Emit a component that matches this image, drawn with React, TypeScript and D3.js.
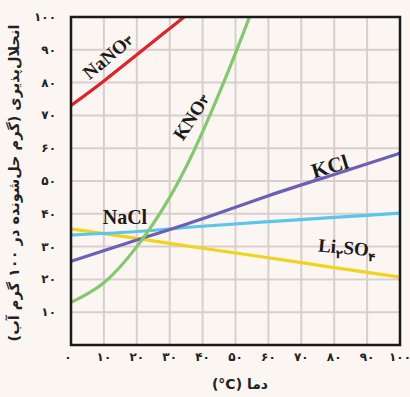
import React from 'react';
import * as d3 from 'd3';

// solubility (g per 100 g water) vs temperature
const temps = [0, 10, 20, 30, 40, 50, 60, 70, 80, 90, 100];
const tickLabels = ['۰', '۱۰', '۲۰', '۳۰', '۴۰', '۵۰', '۶۰', '۷۰', '۸۰', '۹۰', '۱۰۰'];

const nano3T = [0, 10, 20, 30, 40];
const nano3V = [73, 80.5, 88.5, 96.5, 104.5];

const kno3T = [0, 10, 20, 30, 40, 50, 55];
const kno3V = [13, 19, 30, 45, 65, 89, 102];

const kclT = [0, 20, 40, 60, 80, 100];
const kclV = [25.5, 32, 38.5, 45.5, 52, 58.5];

const naclT = [0, 20, 40, 60, 80, 100];
const naclV = [33.5, 34.6, 36.2, 37.6, 38.9, 40.2];

const li2so4T = [0, 20, 40, 60, 80, 100];
const li2so4V = [35.4, 32.5, 29.5, 26.6, 23.6, 20.7];

const W = 410;
const H = 397;
const margin = { top: 17, right: 10, bottom: 52, left: 71 };

const App = () => {
  const x = d3.scaleLinear().domain([0, 100]).range([margin.left, W - margin.right]);
  const y = d3.scaleLinear().domain([0, 100]).range([H - margin.bottom, margin.top]);

  const line = d3
    .line<[number, number]>()
    .x(d => x(d[0]))
    .y(d => y(d[1]))
    .curve(d3.curveNatural);

  const series = [
    { t: li2so4T, v: li2so4V, color: '#f2d31c' },
    { t: naclT, v: naclV, color: '#5cc6ea' },
    { t: kclT, v: kclV, color: '#6a60b4' },
    { t: kno3T, v: kno3V, color: '#82c96c' },
    { t: nano3T, v: nano3V, color: '#e3202a' },
  ];

  const labelFont = '"Liberation Serif", "DejaVu Serif", serif';
  const faFont = '"DejaVu Sans", sans-serif';

  return (
    <svg width={W} height={H} style={{ position: 'absolute', left: 0, top: 0, background: '#fcf6f2' }}>
      <defs>
        <clipPath id="plot">
          <rect x={x(0)} y={y(100)} width={x(100) - x(0)} height={y(0) - y(100)} />
        </clipPath>
      </defs>

      {/* grid */}
      {temps.map(t => (
        <line key={'gx' + t} x1={x(t)} x2={x(t)} y1={y(0)} y2={y(100)} stroke="#d8cfcc" strokeWidth={2} />
      ))}
      {temps.map(t => (
        <line key={'gy' + t} x1={x(0)} x2={x(100)} y1={y(t)} y2={y(t)} stroke="#d8cfcc" strokeWidth={2} />
      ))}

      {/* curves */}
      <g clipPath="url(#plot)">
        {series.map((s, i) => (
          <path
            key={i}
            d={line(s.t.map((t, j) => [t, s.v[j]] as [number, number])) || ''}
            fill="none"
            stroke={s.color}
            strokeWidth={3.2}
          />
        ))}
      </g>

      {/* frame */}
      <rect
        x={x(0)}
        y={y(100)}
        width={x(100) - x(0)}
        height={y(0) - y(100)}
        fill="none"
        stroke="#1a1a1a"
        strokeWidth={2.5}
      />

      {/* y ticks */}
      {temps.slice(1).map((t, i) => (
        <text
          key={'yt' + t}
          x={x(0) - 15}
          y={y(t) + 4}
          textAnchor="end"
          fontFamily={faFont}
          fontWeight="bold"
          fontSize={12}
          fill="#222"
        >
          {tickLabels[i + 1]}
        </text>
      ))}
      {/* x ticks */}
      {temps.map((t, i) => (
        <text
          key={'xt' + t}
          x={x(t) + (i === 0 ? -3 : 0)}
          y={y(0) + 16}
          textAnchor="middle"
          fontFamily={faFont}
          fontWeight="bold"
          fontSize={12}
          fill="#222"
        >
          {tickLabels[i]}
        </text>
      ))}

      {/* axis titles */}
      <text
        x={240}
        y={389}
        textAnchor="middle"
        fontFamily={faFont}
        fontWeight="bold"
        fontSize={14}
        fill="#222"
        direction="rtl"
      >
        {'دما (\u200E°C)'}
      </text>
      <text
        transform={`translate(19,${(y(0) + y(100)) / 2 + 2}) rotate(-90)`}
        textAnchor="middle"
        fontFamily={faFont}
        fontWeight="bold"
        fontSize={14.5}
        fill="#222"
        direction="rtl"
      >
        انحلال‌پذیری (گرم حل‌شونده در ۱۰۰ گرم آب)
      </text>

      {/* curve labels */}
      <text x={x(16.4)} y={y(36.9)} textAnchor="middle" fontFamily={labelFont} fontWeight="bold" fontSize={20} fill="#1a1a1a">
        NaCl
      </text>
      <text
        transform={`translate(${x(79.3)},${y(52.4)}) rotate(-17)`}
        textAnchor="middle"
        fontFamily={labelFont}
        fontWeight="bold"
        fontSize={21}
        fill="#1a1a1a"
      >
        KCl
      </text>
      <text
        transform={`translate(${x(75)},${y(28.5)}) rotate(5)`}
        fontFamily={labelFont}
        fontWeight="bold"
        fontSize={19}
        fill="#1a1a1a"
      >
        Li
        <tspan dy={5} fontSize={12} fontFamily={faFont}>۲</tspan>
        <tspan dy={-5}>SO</tspan>
        <tspan dy={5} fontSize={12} fontFamily={faFont}>۴</tspan>
      </text>
      <text
        transform={`translate(${x(12.5)},${y(86.5)}) rotate(-40)`}
        textAnchor="middle"
        fontFamily={labelFont}
        fontWeight="bold"
        fontSize={19}
        fill="#1a1a1a"
      >
        NaNO
        <tspan dy={-1} fontSize={12} fontFamily={faFont}>۳</tspan>
      </text>
      <text
        transform={`translate(${x(38.2)},${y(68.5)}) rotate(-57)`}
        textAnchor="middle"
        fontFamily={labelFont}
        fontWeight="bold"
        fontSize={19}
        fill="#1a1a1a"
      >
        KNO
        <tspan dy={-1} fontSize={12} fontFamily={faFont}>۳</tspan>
      </text>
    </svg>
  );
};

export default App;
